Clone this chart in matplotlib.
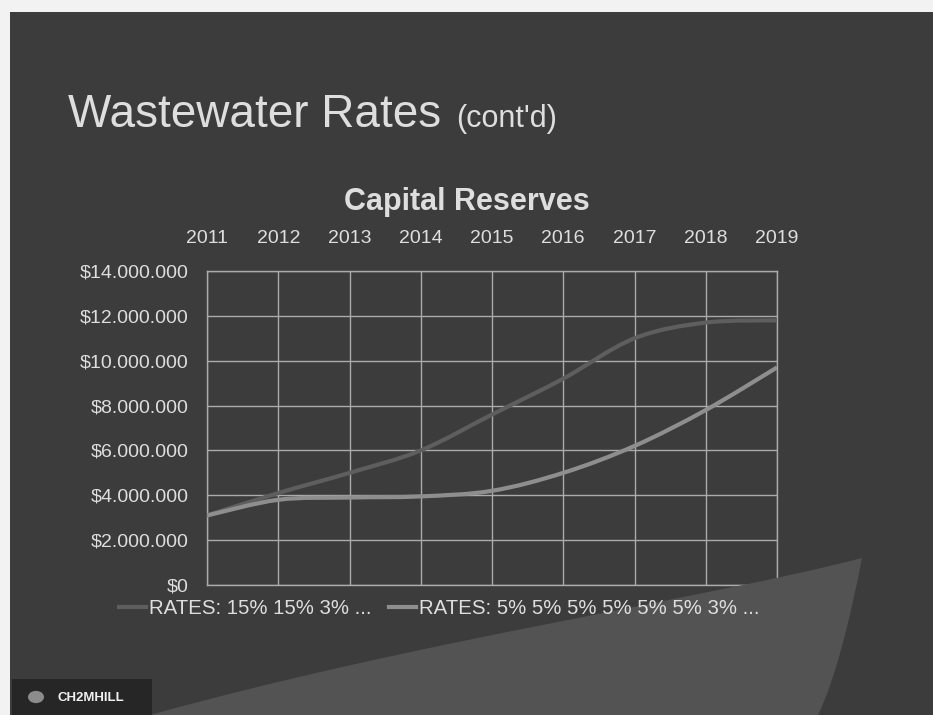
import numpy as np
import matplotlib
matplotlib.use("Agg")
import matplotlib.pyplot as plt
from matplotlib.path import Path
from matplotlib.patches import PathPatch, Rectangle, Circle
from matplotlib.lines import Line2D
from matplotlib.ticker import FuncFormatter

plt.rcParams['font.family'] = ['Liberation Sans', 'DejaVu Sans']

# data (dollars)
years = [2011, 2012, 2013, 2014, 2015, 2016, 2017, 2018, 2019]
high_rates = [3.1e6, 4.1e6, 5.0e6, 6.0e6, 7.6e6, 9.2e6, 11.0e6, 11.7e6, 11.8e6]
low_rates = [3.1e6, 3.8e6, 3.9e6, 3.95e6, 4.2e6, 5.0e6, 6.2e6, 7.8e6, 9.7e6]
series_labels = ["RATES: 15% 15% 3% ...", "RATES: 5% 5% 5% 5% 5% 5% 3% ..."]
y_ticks = [0, 2e6, 4e6, 6e6, 8e6, 10e6, 12e6, 14e6]

W, H = 933, 715
text_col = '#dedede'
grid_col = '#ababab'


def px(x, y):
    # pixel position -> figure fraction
    return (x / W, 1 - y / H)


def smooth_path(x, y):
    # smoothed line like the spreadsheet one (catmull-rom as bezier)
    pts = np.column_stack([x, y]).astype(float)
    n = len(pts)
    verts = [pts[0]]
    codes = [Path.MOVETO]
    for i in range(n - 1):
        p0 = pts[max(i - 1, 0)]
        p1 = pts[i]
        p2 = pts[i + 1]
        p3 = pts[min(i + 2, n - 1)]
        verts += [p1 + (p2 - p0) / 6, p2 - (p3 - p1) / 6, p2]
        codes += [Path.CURVE4] * 3
    return Path(verts, codes)


def money(v, pos):
    if v == 0:
        return "$0"
    return "$" + f"{int(v):,}".replace(",", ".")


fig = plt.figure(figsize=(W / 100, H / 100), dpi=100)
fig.patch.set_facecolor('#3c3c3c')

# lighter swoosh at the bottom right of the slide
sw = Path([px(150, 715), px(420, 640), px(700, 600), px(862, 558),
           px(850, 620), px(835, 680), px(818, 715), px(150, 715)],
          [Path.MOVETO, Path.CURVE4, Path.CURVE4, Path.CURVE4,
           Path.CURVE4, Path.CURVE4, Path.CURVE4, Path.CLOSEPOLY])
fig.patches.append(PathPatch(sw, transform=fig.transFigure,
                             facecolor='#535353', edgecolor='none', zorder=0))

# scan margins
fig.patches.append(Rectangle((0, 0), 10 / W, 1, transform=fig.transFigure,
                             facecolor='#f2f2f2', edgecolor='none', zorder=0))
fig.patches.append(Rectangle((0, 1 - 12 / H), 1, 12 / H, transform=fig.transFigure,
                             facecolor='#f2f2f2', edgecolor='none', zorder=0))

# logo box
fig.patches.append(Rectangle(px(12, 715), 140 / W, 36 / H, transform=fig.transFigure,
                             facecolor='#262626', edgecolor='none', zorder=1))
fig.patches.append(Circle(px(36, 697), 8 / W, transform=fig.transFigure,
                          facecolor='#8c8c8c', edgecolor='none', zorder=2))
fig.text(*px(58, 698), "CH2MHILL", color='#f0f0f0', fontsize=9.5,
         fontweight='bold', va='center', ha='left')

# titles
fig.text(*px(68, 127), "Wastewater Rates", color=text_col, fontsize=33,
         va='baseline', ha='left')
fig.text(*px(456, 127), "(cont'd)", color=text_col, fontsize=22,
         va='baseline', ha='left')
fig.text(*px(467, 210), "Capital Reserves", color=text_col, fontsize=22,
         fontweight='bold', va='baseline', ha='center')

l, b = px(207, 585)
r, t = px(777, 271)
ax = fig.add_axes([l, b, r - l, t - b])
ax.set_facecolor('none')

ax.add_patch(PathPatch(smooth_path(years, high_rates), fill=False,
                       edgecolor='#5e5e5e', linewidth=3, zorder=3))
ax.add_patch(PathPatch(smooth_path(years, low_rates), fill=False,
                       edgecolor='#8e8e8e', linewidth=3, zorder=3))

ax.set_xlim(years[0], years[-1])
ax.set_ylim(0, 14e6)
ax.set_xticks(years)
ax.set_yticks(y_ticks)
ax.yaxis.set_major_formatter(FuncFormatter(money))
ax.xaxis.tick_top()
ax.tick_params(axis='x', length=0, pad=17, labelsize=14, colors=text_col)
ax.tick_params(axis='y', length=0, pad=13, labelsize=14, colors=text_col)
ax.grid(True, color=grid_col, linewidth=1)
for s in ax.spines.values():
    s.set_color(grid_col)
    s.set_linewidth(1)

handles = [Line2D([], [], color='#5e5e5e', linewidth=3),
           Line2D([], [], color='#8e8e8e', linewidth=3)]
fig.legend(handles, series_labels, loc='center left',
           bbox_to_anchor=px(119, 609), bbox_transform=fig.transFigure,
           ncol=2, frameon=False, fontsize=14.7, labelcolor=text_col,
           handlelength=1.32, handletextpad=0.15, columnspacing=0.88,
           borderpad=0, borderaxespad=0)

fig.savefig("out.png", dpi=100, facecolor=fig.get_facecolor())
